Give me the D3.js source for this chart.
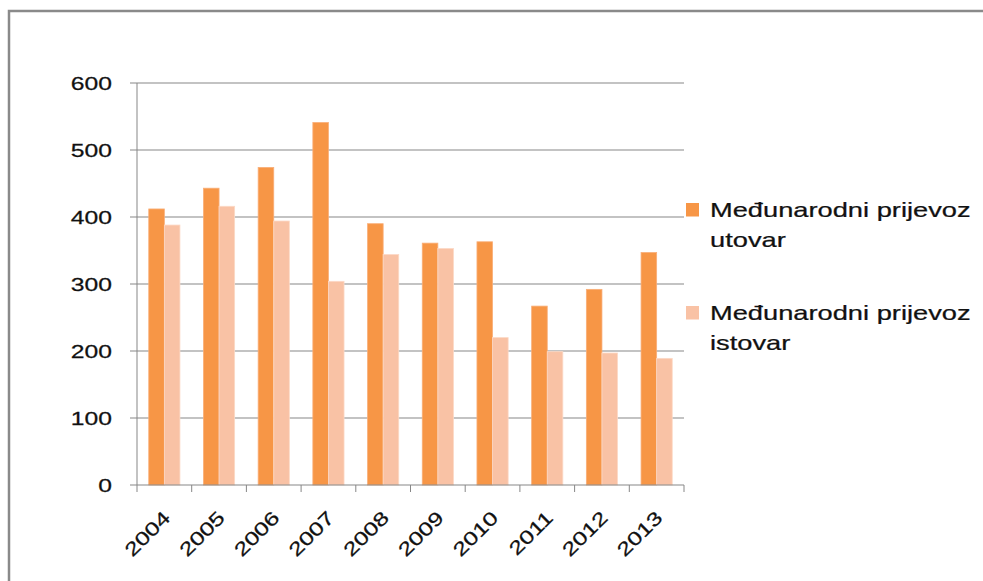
<!DOCTYPE html>
<html>
<head>
<meta charset="utf-8">
<style>
  body { margin: 0; background: white; }
  text { font-family: "Liberation Sans", Arial, sans-serif; fill: #111; }
</style>
<script src="https://cdn.jsdelivr.net/npm/d3@7"></script>
</head>
<body>
<svg id="chart" width="983" height="581"></svg>
<script>
// data
const years = ["2004","2005","2006","2007","2008","2009","2010","2011","2012","2013"];
const utovar = [412, 443, 474, 541, 390, 361, 363, 267, 292, 347];
const istovar = [388, 416, 394, 304, 344, 353, 220, 199, 197, 189];
const seriesColors = ["#F79646", "#F9C2A5"];
const yTicks = [0, 100, 200, 300, 400, 500, 600];

const svg = d3.select("#chart");
const stretch = 1.3;   // text in the source is drawn wide
const gridColor = "#878787";

// frame of the chart area (runs off the right and bottom edge)
svg.append("rect")
  .attr("x", 9).attr("y", 11)
  .attr("width", 1000).attr("height", 600)
  .attr("fill", "none")
  .attr("stroke", "#8a8a8a")
  .attr("stroke-width", 2.5);

const m = {left: 137, right: 684, top: 83, bottom: 485};

const x = d3.scaleBand()
  .domain(years)
  .range([m.left, m.right])
  .paddingInner(0.43)
  .paddingOuter(0.215);
const x1 = d3.scaleBand().domain([0, 1]).range([0, x.bandwidth()]);
const y = d3.scaleLinear().domain([0, 600]).range([m.bottom, m.top]);

// gridlines + y ticks
svg.append("g").selectAll("line")
  .data(yTicks.filter(d => d > 0))
  .join("line")
  .attr("x1", m.left - 7).attr("x2", m.right)
  .attr("y1", d => y(d)).attr("y2", d => y(d))
  .attr("stroke", gridColor).attr("stroke-width", 1);

svg.append("g").selectAll("text")
  .data(yTicks)
  .join("text")
  .attr("text-anchor", "end")
  .attr("font-size", 19)
  .attr("stroke", "#111").attr("stroke-width", 0.25)
  .attr("transform", d => `translate(112,${y(d) + 6.8}) scale(${stretch},1)`)
  .text(d => d);

// bars
const groups = svg.append("g").selectAll("g")
  .data(years)
  .join("g")
  .attr("transform", d => `translate(${x(d)},0)`);

groups.selectAll("rect")
  .data((d, i) => [utovar[i], istovar[i]])
  .join("rect")
  .attr("x", (d, j) => x1(j))
  .attr("width", x1.bandwidth())
  .attr("y", d => y(d))
  .attr("height", d => y(0) - y(d))
  .attr("fill", (d, j) => seriesColors[j])
  .attr("stroke", (d, j) => j ? "#fcd9c6" : "#f9ae78")
  .attr("stroke-width", 0.8);

// axes lines
svg.append("line")
  .attr("x1", m.left).attr("x2", m.left)
  .attr("y1", m.top).attr("y2", m.bottom)
  .attr("stroke", gridColor);
svg.append("line")
  .attr("x1", m.left - 7).attr("x2", m.right)
  .attr("y1", m.bottom).attr("y2", m.bottom)
  .attr("stroke", gridColor);

// category boundary ticks
const step = x.step();
svg.append("g").selectAll("line")
  .data(d3.range(years.length + 1))
  .join("line")
  .attr("x1", i => m.left + i * step).attr("x2", i => m.left + i * step)
  .attr("y1", m.bottom).attr("y2", m.bottom + 7)
  .attr("stroke", gridColor);

// x labels
svg.append("g").selectAll("text")
  .data(years)
  .join("text")
  .attr("text-anchor", "end")
  .attr("font-size", 19)
  .attr("stroke", "#111").attr("stroke-width", 0.25)
  .attr("transform", d => `translate(${x(d) + x.bandwidth() / 2 + 7},${m.bottom + 34}) rotate(-45) scale(${stretch},1)`)
  .text(d => d);

// legend
const legendRows = [
  {lines: ["Međunarodni prijevoz", "utovar"], top: 203},
  {lines: ["Međunarodni prijevoz", "istovar"], top: 306}
];
const lg = svg.append("g").selectAll("g")
  .data(legendRows)
  .join("g");
lg.append("rect")
  .attr("x", 686).attr("y", d => d.top)
  .attr("width", 13).attr("height", 13.5)
  .attr("fill", (d, i) => seriesColors[i]);
lg.each(function(d) {
  d3.select(this).selectAll("text")
    .data(d.lines)
    .join("text")
    .attr("font-size", 20.5)
    .attr("stroke", "#111").attr("stroke-width", 0.25)
    .attr("transform", (t, k) => `translate(710,${d.top + 14.3 + k * 29.4}) scale(1.33,1)`)
    .text(t => t);
});
</script>
</body>
</html>
